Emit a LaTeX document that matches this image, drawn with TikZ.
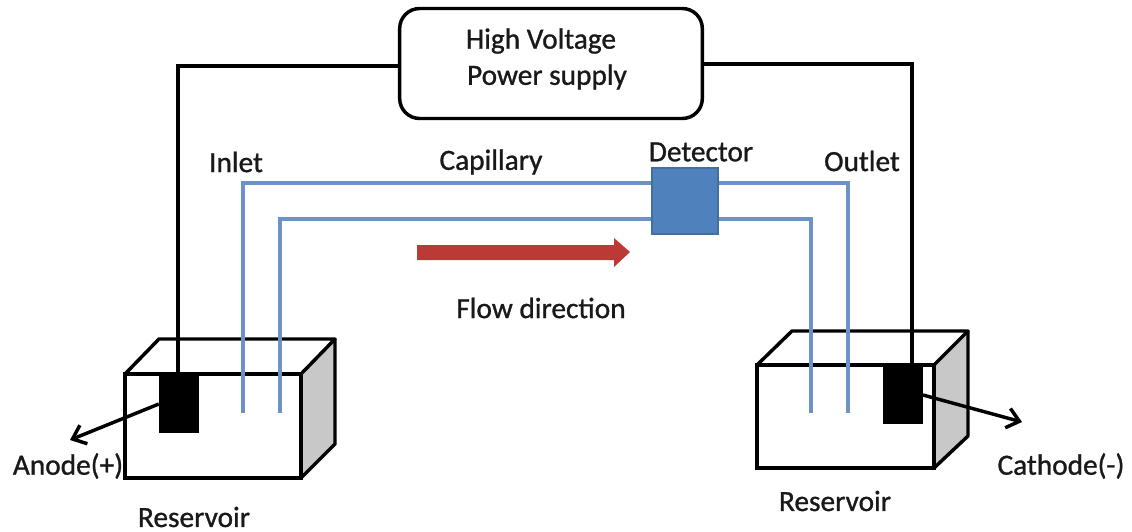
\documentclass[tikz,border=0pt]{standalone}
\usepackage{fontspec}
\setmainfont{Carlito}
\newfontfamily\labelfont{Carlito}[RawFeature={embolden=1.0}]
\usetikzlibrary{arrows.meta}
\definecolor{capblue}{HTML}{6C93C6}
\definecolor{detblue}{HTML}{4F81BD}
\definecolor{detedge}{HTML}{41709F}
\definecolor{flowred}{HTML}{BC3A36}
\definecolor{sidegray}{HTML}{C8C8C8}
\tikzset{
  label text/.style={font=\labelfont\fontsize{22}{26}\selectfont, text=black!90, inner sep=0pt, align=center},
  wire/.style={draw=black, line width=2.6pt},
  boxline/.style={draw=black, line width=2.6pt, line join=round},
  capline/.style={draw=capblue, line width=2.6pt},
  electrode/.style={fill=black, draw=black, inner sep=0pt, line width=0.5pt, rectangle},
  lead/.style={draw=black, line width=2.6pt, -{Straight Barb[length=9pt,width=15pt,line width=2.6pt]}},
}
\begin{document}
\begin{tikzpicture}[x=0.75pt,y=-0.75pt]
\useasboundingbox (0,0) rectangle (1132,532);
% power supply
\node[draw=black, line width=2.6pt, rounded corners=15pt, minimum width=227pt, minimum height=82.5pt, inner sep=0pt] (power) at (551,63.5) {};
\node[label text] (hv) at (541,41) {High Voltage};
\node[label text] (ps) at (547,77) {Power supply};
% left reservoir
\fill[sidegray] (301,374) -- (335,339) -- (335,444) -- (301,478) -- cycle;
\draw[boxline] (125,374) -- (159,339) -- (335,339) -- (301,374);
\draw[boxline] (335,339) -- (335,444) -- (301,478);
\node[draw=black, line width=2.6pt, minimum width=132pt, minimum height=78pt, inner sep=0pt] (resL) at (213,426) {};
% right reservoir
\fill[sidegray] (934,365) -- (968,331) -- (968,436) -- (934,468) -- cycle;
\draw[boxline] (757,365) -- (792,331) -- (968,331) -- (934,365);
\draw[boxline] (968,331) -- (968,436) -- (934,468);
\node[draw=black, line width=2.6pt, minimum width=132.75pt, minimum height=77.25pt, inner sep=0pt] (resR) at (845.5,416.5) {};
% electrodes
\node[electrode, minimum width=29pt, minimum height=44.5pt] (elL) at (178.5,403) {};
\node[electrode, minimum width=29.5pt, minimum height=43.5pt] (elR) at (903,394) {};
% detector
\node[draw=detedge, fill=detblue, line width=1.5pt, minimum width=49pt, minimum height=49pt, inner sep=0pt] (det) at (685,201) {};
% free ends of the capillary
\coordinate (capA) at (243,413);
\coordinate (capB) at (280,413);
\coordinate (capC) at (811,413);
\coordinate (capD) at (848,413);
\draw[capline] (capA) -- (243,183) -- (det.west |- 0,183);
\draw[capline] (capB) -- (280,219) -- (det.west |- 0,219);
\draw[capline] (det.east |- 0,183) -- (848,183) -- (capD);
\draw[capline] (det.east |- 0,219) -- (811,219) -- (capC);
% wires
\draw[wire] (power.west |- 0,66) -- (178,66) -- (elL.north -| 178,0);
\draw[wire] (power.east |- 0,64) -- (912,64) -- (elR.north -| 912,0);
% flow arrow
\coordinate (flowS) at (417,252);
\coordinate (flowE) at (630,252);
\fill[flowred] (flowS) ++(0,-7) -- (614,245) -- (614,238) -- (flowE) -- (614,267) -- (614,260) -- (417,260) -- cycle;
% leads
\coordinate (anodeEnd) at (70,440);
\coordinate (cathodeEnd) at (1022,422);
\draw[lead] (elL.west |- 0,404) -- (anodeEnd);
\draw[lead] (elR.east |- 0,395) -- (cathodeEnd);
% labels
\node[label text] (inlet) at (236,162) {Inlet};
\node[label text] (cap) at (491,162) {Capillary};
\node[label text] (detl) at (701,152) {Detector};
\node[label text] (outlet) at (862,161) {Outlet};
\node[label text] (flow) at (541,308) {Flow direction};
\node[label text] (an) at (68,466) {Anode(+)};
\node[label text] (ca) at (1061,466) {Cathode(-)};
\node[label text] (rl) at (194,517) {Reservoir};
\node[label text] (rr) at (835,501) {Reservoir};
\end{tikzpicture}
\end{document}
